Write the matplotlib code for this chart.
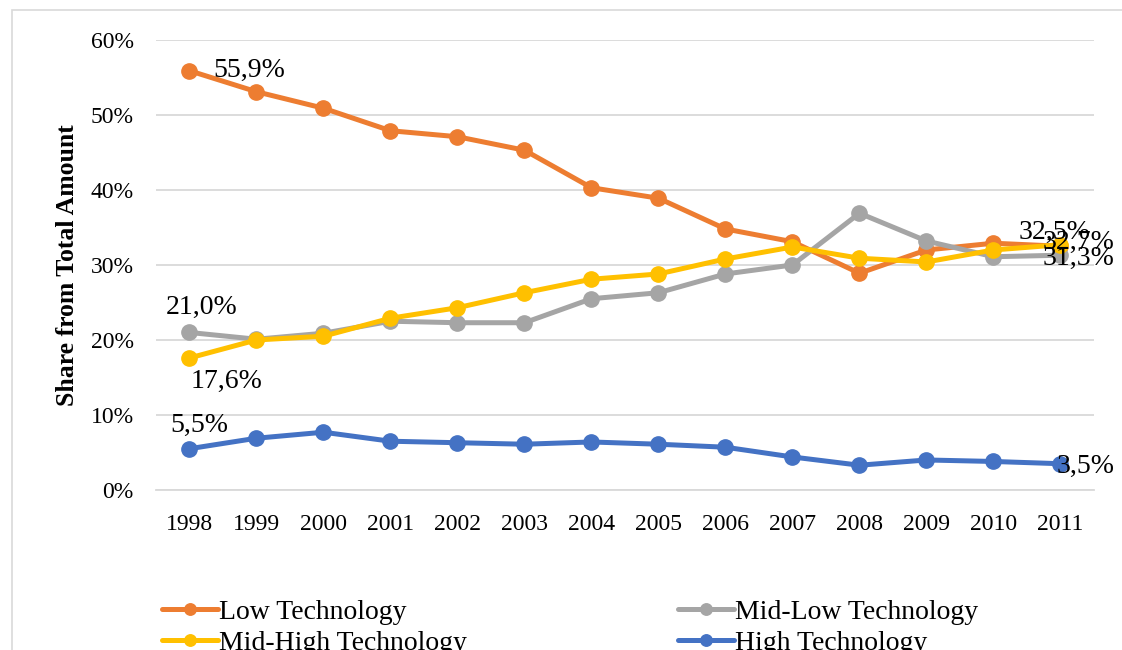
import matplotlib
matplotlib.use("Agg")
import matplotlib.pyplot as plt
from matplotlib.patches import Rectangle
from matplotlib.ticker import FuncFormatter

years = ["1998", "1999", "2000", "2001", "2002", "2003", "2004",
         "2005", "2006", "2007", "2008", "2009", "2010", "2011"]
low_tech = [55.9, 53.1, 50.9, 47.9, 47.1, 45.3, 40.3, 38.9, 34.8, 33.1, 28.9, 32.0, 32.9, 32.5]
mid_low_tech = [21.0, 20.1, 20.9, 22.5, 22.3, 22.3, 25.5, 26.3, 28.8, 30.0, 36.9, 33.2, 31.1, 31.3]
mid_high_tech = [17.6, 20.0, 20.5, 22.9, 24.3, 26.3, 28.1, 28.8, 30.8, 32.4, 30.9, 30.4, 32.0, 32.7]
high_tech = [5.5, 6.9, 7.7, 6.5, 6.3, 6.1, 6.4, 6.1, 5.7, 4.4, 3.3, 4.0, 3.8, 3.5]
series_names = ["Low Technology", "Mid-Low Technology", "Mid-High Technology", "High Technology"]
colors = ["#ED7D31", "#A5A5A5", "#FFC000", "#4472C4"]

plt.rcParams["font.family"] = ["Liberation Serif", "DejaVu Serif"]

fig = plt.figure(figsize=(11.22, 6.5), dpi=100)
ax = fig.add_axes([0.139, 0.2462, 0.836, 0.6923])

# light chart-area border
fig.patches.append(Rectangle((12 / 1122, -0.05), 1.2, 1 - 10 / 650 + 0.05,
                             transform=fig.transFigure, fill=False,
                             edgecolor="#D9D9D9", linewidth=1.2))

x = list(range(len(years)))
series = [low_tech, mid_low_tech, mid_high_tech, high_tech]
handles = []
for vals, name, c in zip(series, series_names, colors):
    (h,) = ax.plot(x, vals, color=c, linewidth=3.6, marker="o", markersize=11,
                   label=name, solid_capstyle="round", zorder=3)
    handles.append(h)


def fmt(v):
    return f"{v:.1f}%".replace(".", ",")


label_style = dict(fontsize=20, color="#000000", textcoords="offset points", zorder=5)
# first-year labels
ax.annotate(fmt(low_tech[0]), (x[0], low_tech[0]), xytext=(17, 0), ha="left", va="center", **label_style)
ax.annotate(fmt(mid_low_tech[0]), (x[0], mid_low_tech[0]), xytext=(9, 9), ha="center", va="bottom", **label_style)
ax.annotate(fmt(mid_high_tech[0]), (x[0], mid_high_tech[0]), xytext=(27, -8), ha="center", va="top", **label_style)
ax.annotate(fmt(high_tech[0]), (x[0], high_tech[0]), xytext=(7, 8), ha="center", va="bottom", **label_style)
# last-year labels
ax.annotate(fmt(low_tech[-1]), (x[-1], low_tech[-1]), xytext=(-30, 1), ha="left", va="bottom", **label_style)
ax.annotate(fmt(mid_high_tech[-1]), (x[-1], mid_high_tech[-1]), xytext=(-13, 2), ha="left", va="center", **label_style)
ax.annotate(fmt(mid_low_tech[-1]), (x[-1], mid_low_tech[-1]), xytext=(-13, -2), ha="left", va="center", **label_style)
ax.annotate(fmt(high_tech[-1]), (x[-1], high_tech[-1]), xytext=(-3, -2), ha="left", va="center", **label_style)

ax.set_xlim(-0.5, len(years) - 0.5)
ax.set_ylim(0, 60)
ax.set_yticks([0, 10, 20, 30, 40, 50, 60])
ax.yaxis.set_major_formatter(FuncFormatter(lambda v, p: f"{v:.0f}%"))
ax.set_xticks(x)
ax.set_xticklabels(years)
ax.tick_params(axis="both", length=0, colors="#000000")
ax.tick_params(axis="y", pad=16, labelsize=17)
ax.tick_params(axis="x", pad=17, labelsize=17)
ax.grid(axis="y", color="#D9D9D9", linewidth=1.3)
ax.set_axisbelow(True)
for s in ["top", "right", "left"]:
    ax.spines[s].set_visible(False)
ax.spines["bottom"].set_color("#D9D9D9")
ax.spines["bottom"].set_linewidth(1.3)

ax.set_ylabel("Share from Total Amount", fontsize=18.5, fontweight="bold", labelpad=8)

order = [0, 2, 1, 3]
fig.legend([handles[i] for i in order], [series_names[i] for i in order],
           ncol=2, loc="upper left", bbox_to_anchor=(0.1345, 0.095), frameon=False,
           fontsize=20, handlelength=2.0, handletextpad=0.05, columnspacing=7.6,
           labelspacing=0.2, borderaxespad=0, markerscale=0.75)

fig.savefig("out.png", dpi=100)
